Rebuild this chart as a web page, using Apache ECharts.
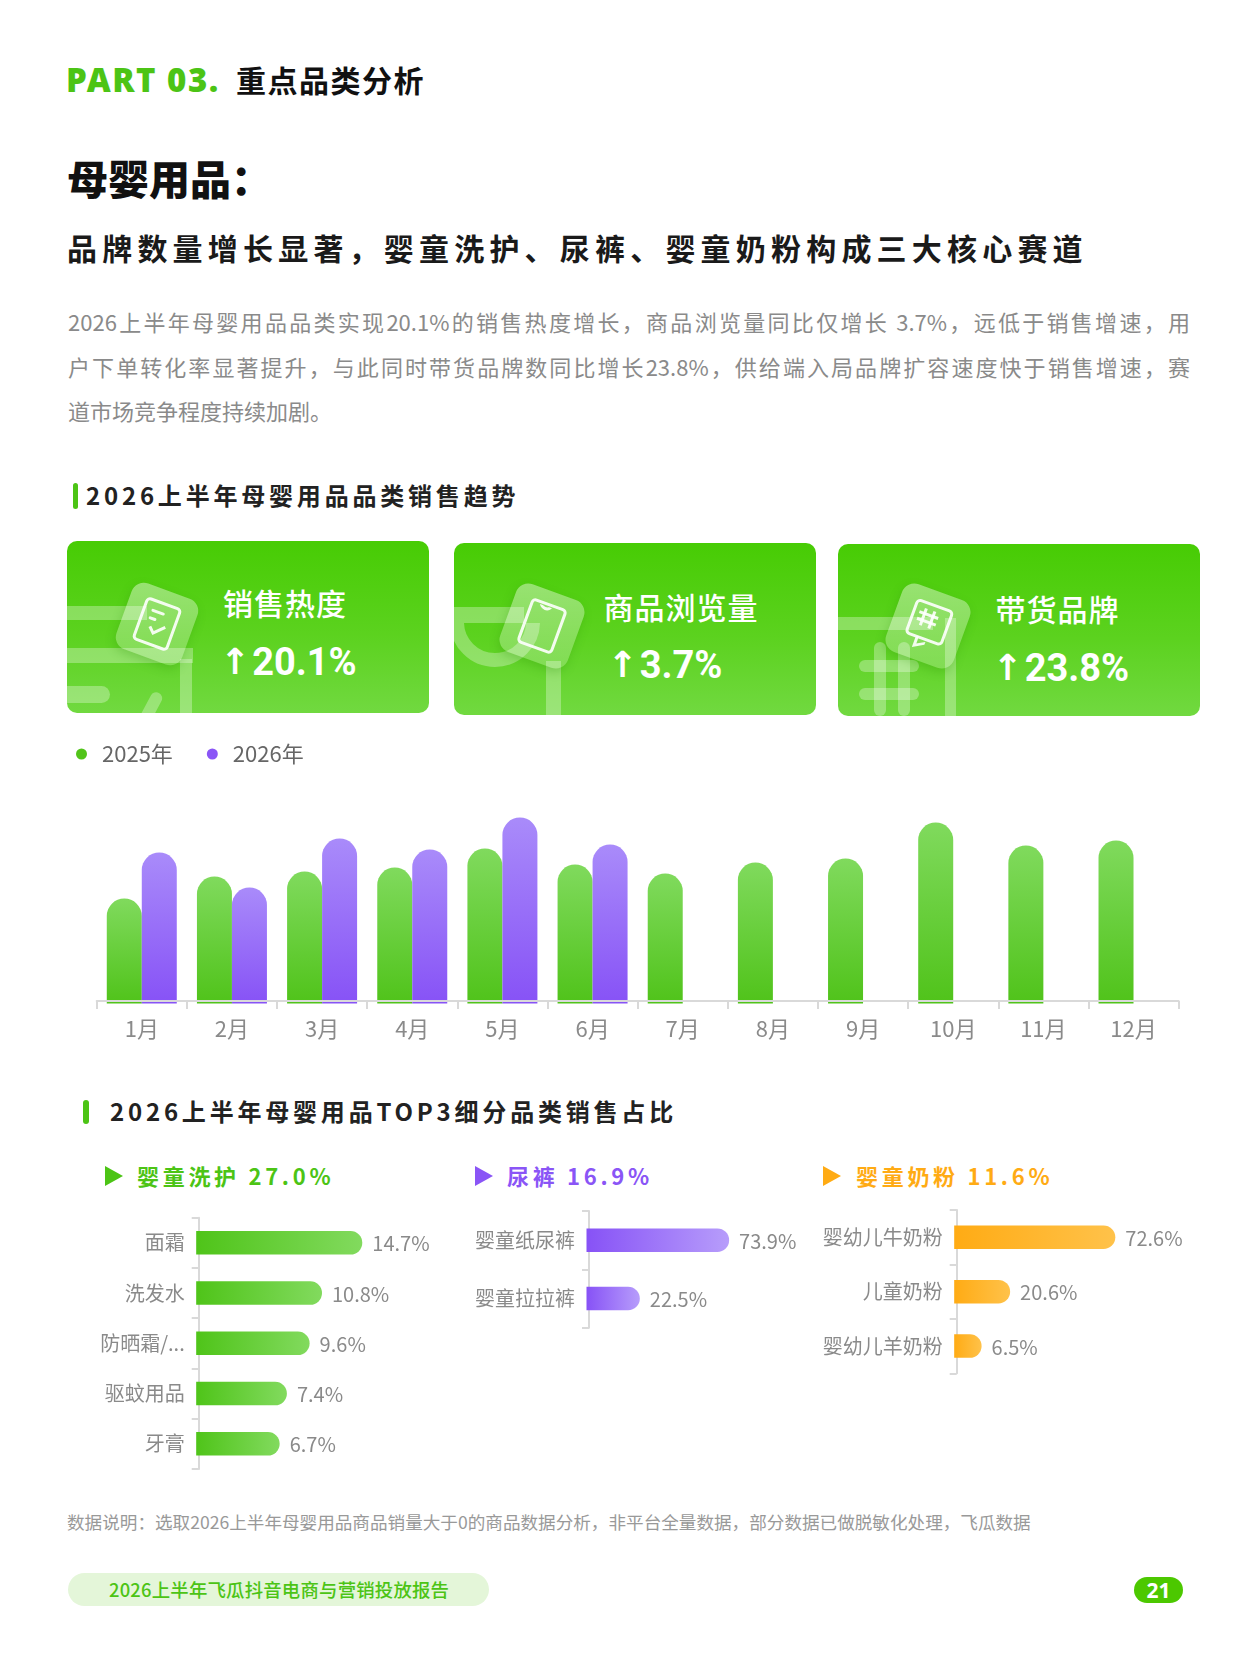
<!DOCTYPE html>
<html>
<head>
<meta charset="utf-8">
<script src="https://cdn.jsdelivr.net/npm/echarts@6/dist/echarts.min.js"></script>
<style>
  html, body { margin:0; padding:0; background:#fff; }
  body { width:1249px; height:1666px; position:relative; overflow:hidden; font-family:"Noto Sans CJK SC","Noto Sans",sans-serif; }
  .abs { position:absolute; white-space:nowrap; }
  .card { position:absolute; width:362px; height:172px; border-radius:10px; overflow:hidden;
          background:linear-gradient(180deg,#47cc04 0%,#5cd21f 55%,#71d940 100%); }
  .dc { position:absolute; background:rgba(255,255,255,0.3); }
  .icon { position:absolute; width:70px; height:70px; border-radius:13px; transform:rotate(20deg);
          background:linear-gradient(160deg,rgba(255,255,255,0.42),rgba(255,255,255,0.18));
          box-shadow:0 4px 10px rgba(40,140,0,0.25); }
  .inner { position:absolute; border:3px solid rgba(255,255,255,0.9); border-radius:5px; }
  .ct { position:absolute; left:156px; top:42px; font-size:30px; line-height:38px; color:#fff; font-weight:500; letter-spacing:1px; }
  .cv { position:absolute; left:153px; top:99px; font-size:38px; line-height:44px; color:#fff; font-weight:700; font-family:Roboto,"Noto Sans",sans-serif; }
  .cv .ar { font-family:"DejaVu Sans",sans-serif; font-weight:700; font-size:36px; margin-right:2px; position:relative; top:-1px; }
  .tri { position:absolute; width:0; height:0; border-top:10.5px solid transparent; border-bottom:10.5px solid transparent; border-left:18px solid; }
  .gh { position:absolute; font-size:22px; line-height:28px; font-weight:700; letter-spacing:3.7px; }
  #chart { position:absolute; left:0; top:0; width:1249px; height:1666px; }
</style>
</head>
<body>
<div class="abs" style="left:66px;top:60px;font-size:33px;line-height:40px;font-weight:900;color:#4cc415;font-family:'Noto Sans',sans-serif;letter-spacing:1.5px;">PART 03.</div>
<div class="abs" style="left:236px;top:59px;font-size:30px;line-height:40px;font-weight:700;color:#111;letter-spacing:1.5px;">重点品类分析</div>

<div class="abs" style="left:67px;top:151px;font-size:41px;line-height:52px;font-weight:900;color:#111;">母婴用品：</div>
<div class="abs" style="left:67px;top:227px;font-size:30px;line-height:40px;font-weight:700;color:#1a1a1a;letter-spacing:5.2px;">品牌数量增长显著，婴童洗护、尿裤、婴童奶粉构成三大核心赛道</div>

<div class="abs" style="left:68px;top:299px;width:1122px;font-size:22px;line-height:44.5px;color:#8a8a8a;white-space:normal;">
  <div style="text-align:justify;text-align-last:justify;white-space:nowrap;">2026上半年母婴用品品类实现20.1%的销售热度增长，商品浏览量同比仅增长 3.7%，远低于销售增速，用</div>
  <div style="text-align:justify;text-align-last:justify;white-space:nowrap;">户下单转化率显著提升，与此同时带货品牌数同比增长23.8%，供给端入局品牌扩容速度快于销售增速，赛</div>
  <div>道市场竞争程度持续加剧。</div>
</div>

<div class="abs" style="left:72.5px;top:483px;width:5px;height:26px;border-radius:3px;background:#4cc415;"></div>
<div class="abs" style="left:86px;top:480px;font-size:24px;line-height:30px;font-weight:700;color:#222;letter-spacing:3.8px;">2026上半年母婴用品品类销售趋势</div>

<!-- cards -->
<div class="card" style="left:67px;top:541px;">
  <div class="dc" style="left:0;top:65px;width:80px;height:14px;"></div>
  <div class="dc" style="left:0;top:107px;width:126px;height:15px;"></div>
  <div class="dc" style="left:-12px;top:145px;width:55px;height:17px;border-radius:9px;"></div>
  <div class="dc" style="left:113px;top:118px;width:12px;height:60px;"></div>
  <div class="dc" style="left:78px;top:150px;width:12px;height:34px;border-radius:6px;transform:rotate(28deg);"></div>
  <div class="icon" style="left:55px;top:48px;">
    <div class="inner" style="left:16px;top:12px;width:32px;height:40px;"></div>
    <div class="abs" style="left:25px;top:22px;width:14px;height:3px;background:rgba(255,255,255,0.9);border-radius:2px;"></div>
    <div class="abs" style="left:25px;top:30px;width:8px;height:3px;background:rgba(255,255,255,0.9);border-radius:2px;"></div>
    <div class="abs" style="left:29px;top:34px;width:12px;height:6px;border-left:3px solid rgba(255,255,255,0.9);border-bottom:3px solid rgba(255,255,255,0.9);transform:rotate(-45deg);"></div>
  </div>
  <div class="ct">销售热度</div>
  <div class="cv"><span class="ar">↑</span>20.1%</div>
</div>

<div class="card" style="left:453.5px;top:543px;">
  <div class="dc" style="left:0;top:64px;width:70px;height:16px;"></div>
  <div class="abs" style="left:-4px;top:80px;width:90px;height:50px;overflow:hidden;">
    <div style="position:absolute;left:0;top:-46px;width:62px;height:62px;border-radius:50%;border:14px solid rgba(255,255,255,0.3);"></div>
  </div>
  <div class="dc" style="left:92px;top:118px;width:15px;height:60px;"></div>
  <div class="icon" style="left:52px;top:47px;width:72px;height:72px;">
    <div class="inner" style="left:17px;top:12px;width:32px;height:42px;"></div>
    <div class="abs" style="left:26px;top:16px;width:14px;height:14px;overflow:hidden;">
      <div style="position:absolute;left:0;top:-10px;width:8px;height:8px;border-radius:50%;border:3px solid rgba(255,255,255,0.9);"></div>
    </div>
  </div>
  <div class="ct" style="left:150px;top:44px;">商品浏览量</div>
  <div class="cv" style="left:154px;top:100px;"><span class="ar">↑</span>3.7%</div>
</div>

<div class="card" style="left:837.5px;top:544px;">
  <div class="dc" style="left:0;top:73px;width:95px;height:13px;"></div>
  <div class="dc" style="left:36px;top:98px;width:12px;height:74px;border-radius:6px;"></div>
  <div class="dc" style="left:60px;top:98px;width:12px;height:74px;border-radius:6px;"></div>
  <div class="dc" style="left:21px;top:116px;width:60px;height:12px;border-radius:6px;"></div>
  <div class="dc" style="left:21px;top:144px;width:60px;height:12px;border-radius:6px;"></div>
  <div class="dc" style="left:107px;top:74px;width:11px;height:110px;"></div>
  <div class="icon" style="left:54px;top:46px;width:72px;height:72px;">
    <div class="inner" style="left:16px;top:13px;width:34px;height:32px;"></div>
    <div class="abs" style="left:28px;top:47px;width:8px;height:8px;border-left:3px solid rgba(255,255,255,0.9);border-bottom:3px solid rgba(255,255,255,0.9);transform:skewY(-30deg);"></div>
    <div class="abs" style="left:27px;top:20px;width:3px;height:18px;background:rgba(255,255,255,0.9);"></div>
    <div class="abs" style="left:36px;top:20px;width:3px;height:18px;background:rgba(255,255,255,0.9);"></div>
    <div class="abs" style="left:23px;top:24px;width:20px;height:3px;background:rgba(255,255,255,0.9);"></div>
    <div class="abs" style="left:23px;top:31px;width:20px;height:3px;background:rgba(255,255,255,0.9);"></div>
  </div>
  <div class="ct" style="left:158px;top:45px;">带货品牌</div>
  <div class="cv" style="left:155px;top:102px;"><span class="ar">↑</span>23.8%</div>
</div>

<!-- section 2 -->
<div class="abs" style="left:83px;top:1100px;width:6px;height:24px;border-radius:3px;background:#4cc415;"></div>
<div class="abs" style="left:110px;top:1096px;font-size:24px;line-height:30px;font-weight:700;color:#222;letter-spacing:3.8px;">2026上半年母婴用品TOP3细分品类销售占比</div>

<div class="tri" style="left:105px;top:1166px;border-left-color:#4cc415;"></div>
<div class="gh" style="left:137px;top:1161px;color:#4cc415;">婴童洗护 27.0%</div>
<div class="tri" style="left:475px;top:1166px;border-left-color:#8a55f6;"></div>
<div class="gh" style="left:507px;top:1161px;color:#8a55f6;">尿裤 16.9%</div>
<div class="tri" style="left:823px;top:1166px;border-left-color:#ffab14;"></div>
<div class="gh" style="left:856px;top:1161px;color:#ffab14;">婴童奶粉 11.6%</div>

<div class="abs" style="left:67px;top:1509px;font-size:17.6px;line-height:26px;color:#999;">数据说明：选取2026上半年母婴用品商品销量大于0的商品数据分析，非平台全量数据，部分数据已做脱敏化处理，飞瓜数据</div>

<div class="abs" style="left:68px;top:1573px;width:421px;height:33px;border-radius:17px;background:#e4f6d9;"></div>
<div class="abs" style="left:109px;top:1573px;font-size:18.4px;line-height:33px;font-weight:500;color:#4cc415;letter-spacing:0.2px;">2026上半年飞瓜抖音电商与营销投放报告</div>
<div class="abs" style="left:1134px;top:1577px;width:49px;height:26px;border-radius:13px;background:#4cc800;color:#fff;font-size:21px;line-height:26px;font-weight:700;text-align:center;font-family:'Noto Sans',sans-serif;">21</div>

<div id="chart"></div>

<script>
// ---------- data ----------
const months = ['1月','2月','3月','4月','5月','6月','7月','8月','9月','10月','11月','12月'];
const heat2025 = [105, 127, 132, 136, 155, 139, 130, 141, 145, 181, 158, 163];
const heat2026 = [151, 116, 165, 154, 186, 159];

const careCats = ['面霜','洗发水','防晒霜/防晒乳','驱蚊用品','牙膏'];
const careVals = [14.7, 10.8, 9.6, 7.4, 6.7];
const diaperCats = ['婴童纸尿裤','婴童拉拉裤'];
const diaperVals = [73.9, 22.5];
const milkCats = ['婴幼儿牛奶粉','儿童奶粉','婴幼儿羊奶粉'];
const milkVals = [72.6, 20.6, 6.5];

// ---------- chart ----------
const FONT = '"Noto Sans CJK SC", "Noto Sans", sans-serif';
const chart = echarts.init(document.getElementById('chart'), null, { renderer: 'canvas' });

function vgrad(top, bottom) {
  return new echarts.graphic.LinearGradient(0, 0, 0, 1, [
    { offset: 0, color: top }, { offset: 1, color: bottom }
  ]);
}

function hbarRenderer(c0, c1) {
  return function (params, api) {
    const v = api.value(0);
    const idx = api.value(1);
    const s = api.coord([0, idx]);
    const e = api.coord([v, idx]);
    const h = 23.5, r = h / 2;
    const x0 = s[0] - 2.5;
    const w = e[0] - s[0] + r + 2.5;
    return {
      type: 'group',
      children: [
        {
          type: 'rect',
          shape: { x: x0, y: s[1] - h / 2, width: w, height: h, r: [0, r, r, 0] },
          style: {
            fill: new echarts.graphic.LinearGradient(0, 0, 1, 0, [
              { offset: 0, color: c0 }, { offset: 1, color: c1 }
            ])
          }
        },
        {
          type: 'text',
          style: {
            text: v.toFixed(1) + '%',
            x: x0 + w + 10, y: s[1] + 1,
            verticalAlign: 'middle', align: 'left',
            fill: '#8a8a8a', font: '20px ' + FONT
          }
        }
      ]
    };
  };
}

const catAxisCommon = {
  type: 'category', inverse: true,
  axisLine: { show: true, lineStyle: { color: '#d9d9d9', width: 2 } },
  axisTick: { show: true, length: 7, lineStyle: { color: '#d9d9d9', width: 2 } },
  axisLabel: { color: '#8a8a8a', fontSize: 20, fontFamily: FONT, margin: 14 }
};

const option = {
  animation: false,
  legend: {
    left: 71, top: 738,
    icon: 'circle', itemWidth: 11, itemHeight: 11, itemGap: 34,
    textStyle: { fontSize: 22, color: '#666', fontFamily: FONT, padding: [0, 0, 0, 10] },
    data: [
      { name: '2025年', itemStyle: { color: '#52c41a' } },
      { name: '2026年', itemStyle: { color: '#8a55f6' } }
    ]
  },
  grid: [
    { left: 96.7, right: 70.4, top: 803.5, height: 200, containLabel: false },
    { left: 198.7, top: 1217.7, height: 251.3, width: 206.6 },
    { left: 589, top: 1211, height: 116.7, width: 173.7 },
    { left: 956.7, top: 1210, height: 163.3, width: 202.3 }
  ],
  xAxis: [
    {
      gridIndex: 0, type: 'category', data: months, offset: -2.5, z: 5,
      axisLine: { show: true, lineStyle: { color: '#d9d9d9', width: 2 } },
      axisTick: { show: true, length: 8, lineStyle: { color: '#d9d9d9', width: 2 } },
      axisLabel: { color: '#8a8a8a', fontSize: 22, fontFamily: FONT, margin: 17 }
    },
    { gridIndex: 1, type: 'value', min: 0, max: 20, show: false },
    { gridIndex: 2, type: 'value', min: 0, max: 100, show: false },
    { gridIndex: 3, type: 'value', min: 0, max: 100, show: false }
  ],
  yAxis: [
    { gridIndex: 0, type: 'value', min: 0, max: 200, show: false },
    Object.assign({ gridIndex: 1, data: careCats }, catAxisCommon, {
      axisLabel: Object.assign({}, catAxisCommon.axisLabel, { width: 92, overflow: 'truncate', ellipsis: '...' })
    }),
    Object.assign({ gridIndex: 2, data: diaperCats }, catAxisCommon),
    Object.assign({ gridIndex: 3, data: milkCats }, catAxisCommon)
  ],
  series: [
    {
      name: '2025年', type: 'bar', xAxisIndex: 0, yAxisIndex: 0,
      data: heat2025, barWidth: 35, barGap: '0%',
      itemStyle: { color: vgrad('#80da5d', '#50c31a'), borderRadius: [17.5, 17.5, 0, 0] }
    },
    {
      name: '2026年', type: 'bar', xAxisIndex: 0, yAxisIndex: 0,
      data: heat2026, barWidth: 35, barGap: '0%',
      itemStyle: { color: vgrad('#a98bfa', '#8752f6'), borderRadius: [17.5, 17.5, 0, 0] }
    },
    {
      type: 'custom', xAxisIndex: 1, yAxisIndex: 1,
      renderItem: hbarRenderer('#4fc419', '#82da5e'),
      encode: { x: 0, y: 1 },
      data: careVals.map((v, i) => [v, i])
    },
    {
      type: 'custom', xAxisIndex: 2, yAxisIndex: 2,
      renderItem: hbarRenderer('#8752f6', '#b79dfb'),
      encode: { x: 0, y: 1 },
      data: diaperVals.map((v, i) => [v, i])
    },
    {
      type: 'custom', xAxisIndex: 3, yAxisIndex: 3,
      renderItem: hbarRenderer('#ffab14', '#ffc24a'),
      encode: { x: 0, y: 1 },
      data: milkVals.map((v, i) => [v, i])
    }
  ]
};
chart.setOption(option);
</script>
</body>
</html>
